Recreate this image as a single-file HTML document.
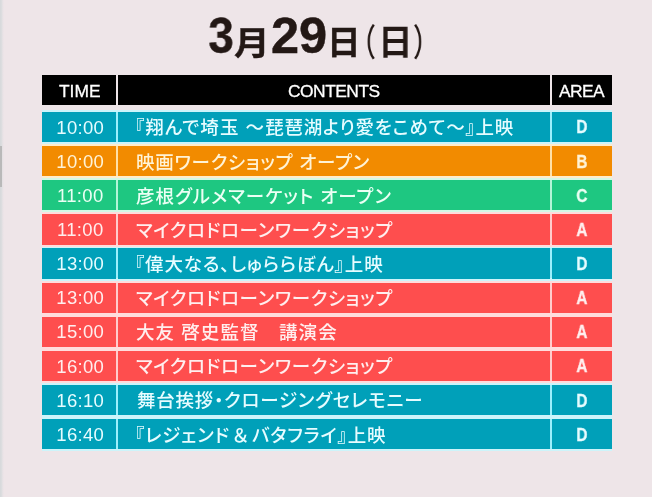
<!DOCTYPE html>
<html lang="ja">
<head>
<meta charset="utf-8">
<title>3月29日(日) タイムテーブル</title>
<style>
html,body{margin:0;padding:0;}
body{width:652px;height:497px;overflow:hidden;background:#eee5e8;position:relative;
  font-family:"Liberation Sans","Noto Sans CJK JP",sans-serif;}
.edge{position:absolute;left:0;top:0;width:4px;height:497px;
  background:linear-gradient(90deg,#d6d9db 0,#dcdddf 1.5px,#e6e1e4 2.6px,#eee5e8 4px);}
.edge2{position:absolute;left:0;top:146px;width:2px;height:41px;background:#b9b9b9;}
.title{position:absolute;left:0;top:0;width:652px;height:70px;color:#231815;font-weight:bold;}
.title span{position:absolute;white-space:nowrap;line-height:1;transform-origin:0 50%;}
.d{font-size:50.5px;-webkit-text-stroke:0.5px #231815;}
.k{font-size:33px;-webkit-text-stroke:0.4px #231815;}
.p{font-size:37px;font-weight:500;}
.c{position:absolute;}
.c span,.title span{will-change:transform;}
.hd span{display:inline-block;-webkit-text-stroke:0.3px #fff;position:relative;top:0.5px;}
.hd{background:#000;color:#fff;top:75px;height:30.3px;line-height:30.7px;text-align:center;font-size:17.4px;}
.c0{left:42.2px;width:74.2px;}
.c1{left:118.4px;width:431.4px;}
.c2{left:551.6px;width:60.1px;}
.row{position:absolute;left:0;width:652px;height:30.3px;}
.row::before{content:"";position:absolute;left:41.6px;width:570.7px;top:-1.9px;height:34.13px;}
.row .c{top:0;height:30.3px;line-height:30.3px;white-space:nowrap;}
.row .c0{text-align:center;font-size:18.5px;letter-spacing:0.33px;}
.row .c0 span{position:relative;top:0.8px;left:1px;}
.row .c1{font-size:18.5px;font-weight:500;letter-spacing:0.85px;}
.row .c1 span{position:absolute;left:17.5px;top:1.5px;font-feature-settings:"palt";}
.row .c1 i{font-style:normal;margin:0 3px;}
.row .c1 em{font-style:normal;letter-spacing:1.04px;}
.row .c2{text-align:center;font-size:19px;font-weight:bold;}
.row .c2 span{display:inline-block;transform:scaleX(0.8);position:relative;left:0.5px;top:0.6px;-webkit-text-stroke:0.35px currentColor;}
.D::before{background:linear-gradient(#9deffc,#9deffc) 0 1.9px/100% 30.3px no-repeat,#cdf4fa;}
.B::before{background:linear-gradient(#ffe0a8,#ffe0a8) 0 1.9px/100% 30.3px no-repeat,#ffeccb;}
.C::before{background:linear-gradient(#b4f5d8,#b4f5d8) 0 1.9px/100% 30.3px no-repeat,#d3f8e6;}
.A::before{background:linear-gradient(#ffcccc,#ffcccc) 0 1.9px/100% 30.3px no-repeat,#ffdcdc;}
.D .c{background:#00a0b9;color:#e6fcff;}
.B .c{background:#f28b00;color:#fff3d6;}
.C .c{background:#1ec781;color:#ebfff4;}
.A .c{background:#fe4e4e;color:#ffeeee;}
</style>
</head>
<body>
<div class="edge"></div><div class="edge2"></div>
<div class="title">
  <span class="d" style="left:207.3px;top:11.2px;transform-origin:50% 50%;transform:scaleX(0.9)">3</span>
  <span class="k" style="left:234.3px;top:27px;transform:scaleX(1.08)">月</span>
  <span class="d" style="left:271px;top:11.2px;">29</span>
  <span class="k" style="left:327.4px;top:26.3px;transform:scaleX(1.02)">日</span>
  <span class="p" style="left:349.6px;top:24.5px;transform:scaleX(0.7)">（</span>
  <span style="left:378px;top:24.6px;font-size:35px;transform:scaleX(0.99)">日</span>
  <span class="p" style="left:413.1px;top:24.5px;transform:scaleX(0.7)">）</span>
</div>
<div class="c hd c0"><span>TIME</span></div>
<div class="c hd c1"><span style="letter-spacing:-0.5px;position:relative;left:0.2px">CONTENTS</span></div>
<div class="c hd c2"><span style="letter-spacing:-0.6px">AREA</span></div>

<div class="row D" style="top:111.9px"><div class="c c0"><span>10:00</span></div><div class="c c1"><span style="left:17px;letter-spacing:0.74px"><em>『翔んで埼玉 ～</em>琵琶湖より愛をこめて～』上映</span></div><div class="c c2"><span>D</span></div></div>
<div class="row B" style="top:146.03px"><div class="c c0"><span>10:00</span></div><div class="c c1"><span style="letter-spacing:0.75px">映画ワークショップ オープン</span></div><div class="c c2"><span>B</span></div></div>
<div class="row C" style="top:180.16px"><div class="c c0"><span>11:00</span></div><div class="c c1"><span style="letter-spacing:1px">彦根グルメマーケット オープン</span></div><div class="c c2"><span>C</span></div></div>
<div class="row A" style="top:214.29px"><div class="c c0"><span>11:00</span></div><div class="c c1"><span style="letter-spacing:0.65px;left:17.3px">マイクロドローンワークショップ</span></div><div class="c c2"><span>A</span></div></div>
<div class="row D" style="top:248.42px"><div class="c c0"><span>13:00</span></div><div class="c c1"><span style="left:16.8px">『偉大なる、しゅららぼん』上映</span></div><div class="c c2"><span>D</span></div></div>
<div class="row A" style="top:282.55px"><div class="c c0"><span>13:00</span></div><div class="c c1"><span style="letter-spacing:0.65px;left:17.3px">マイクロドローンワークショップ</span></div><div class="c c2"><span>A</span></div></div>
<div class="row A" style="top:316.68px"><div class="c c0"><span>15:00</span></div><div class="c c1"><span style="letter-spacing:1.05px">大友 啓史監督　講演会</span></div><div class="c c2"><span>A</span></div></div>
<div class="row A" style="top:350.81px"><div class="c c0"><span>16:00</span></div><div class="c c1"><span style="letter-spacing:0.65px;left:17.3px">マイクロドローンワークショップ</span></div><div class="c c2"><span>A</span></div></div>
<div class="row D" style="top:384.94px"><div class="c c0"><span>16:10</span></div><div class="c c1"><span style="left:18.3px;letter-spacing:0.78px">舞台挨拶・クロージングセレモニー</span></div><div class="c c2"><span>D</span></div></div>
<div class="row D" style="top:419.07px"><div class="c c0"><span>16:40</span></div><div class="c c1"><span style="left:16.5px">『レジェンド<i>＆</i>バタフライ』上映</span></div><div class="c c2"><span>D</span></div></div>
</body>
</html>
